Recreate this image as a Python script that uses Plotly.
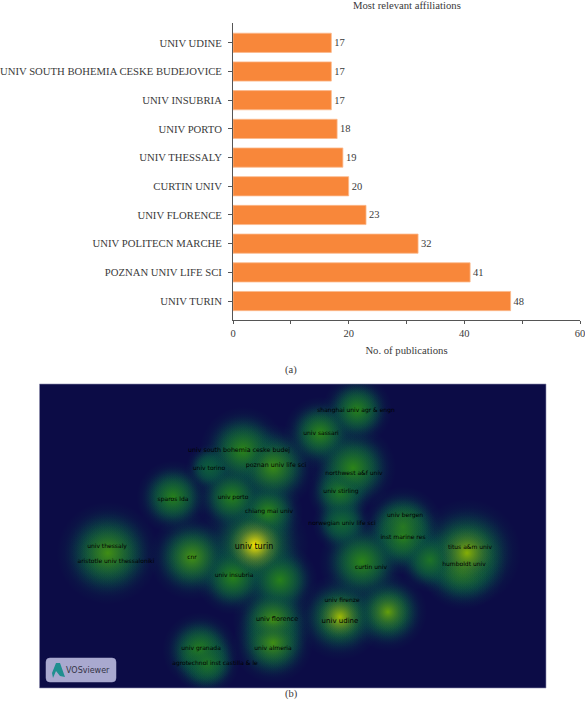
import plotly.graph_objects as go
from plotly.colors import sample_colorscale

W, H = 585, 708

# ---- panel (a)
affiliations = ["UNIV TURIN", "POZNAN UNIV LIFE SCI", "UNIV POLITECN MARCHE", "UNIV FLORENCE",
                "CURTIN UNIV", "UNIV THESSALY", "UNIV PORTO", "UNIV INSUBRIA",
                "UNIV SOUTH BOHEMIA CESKE BUDEJOVICE", "UNIV UDINE"]
publications = [48, 41, 32, 23, 20, 19, 18, 17, 17, 17]
x_ticks = [0, 20, 40, 60]

# ---- panel (b): density blobs on the map
blob_x = [255, 108, 192, 233, 280, 273, 273, 200, 207, 173, 232, 268, 243, 273, 210, 357, 320,
          353, 340, 342, 403, 403, 362, 467, 463, 430, 340, 388]
blob_y = [545, 553, 557, 577, 580, 620, 643, 650, 663, 497, 497, 512, 450, 467, 468, 410, 433,
          468, 492, 523, 527, 537, 562, 553, 567, 560, 617, 612]
blob_r = [40, 38, 32, 28, 28, 30, 30, 28, 24, 27, 27, 26, 32, 32, 18, 26, 27,
          32, 24, 22, 30, 28, 32, 40, 32, 24, 32, 29]
blob_density = [1.0, 0.52, 0.53, 0.45, 0.44, 0.52, 0.52, 0.44, 0.40, 0.44, 0.44, 0.46, 0.46, 0.5, 0.28, 0.44, 0.46,
                0.46, 0.40, 0.32, 0.48, 0.46, 0.46, 0.72, 0.52, 0.38, 0.78, 0.62]

map_labels = ["univ south bohemia ceske budej", "univ torino", "poznan univ life sci", "sparos lda", "univ porto",
              "chiang mai univ", "univ thessaly", "aristotle univ thessaloniki", "cnr", "univ turin",
              "univ insubria", "univ florence", "univ granada", "univ almeria", "agrotechnol inst castilla & le",
              "shanghai univ agr & engn", "univ sassari", "northwest a&f univ", "univ stirling", "univ bergen",
              "norwegian univ life sci", "inst marine res", "titus a&m univ", "humboldt univ", "curtin univ",
              "univ firenze", "univ udine"]
label_x = [239, 209, 276, 173, 233, 269, 107, 116, 192, 254, 234, 277, 201, 273, 215, 356, 321, 354, 341, 405,
           342, 403, 470, 464, 371, 342, 340]
label_y = [450, 468, 465, 499, 497, 511, 546, 561, 557, 547, 575, 619, 648, 648, 663, 410, 433, 473, 491, 515,
           523, 537, 547, 564, 567, 600, 621]
label_size = [6.3, 6, 6.3, 6, 6, 6, 6, 6, 6, 8, 6, 6.5, 6, 6, 6, 6, 6, 6, 6, 6, 6, 6, 6, 6, 6, 6, 7]

SERIF = "Liberation Serif"
SANS = "DejaVu Sans"
INK = "#3a3a3a"
NAVY = "#0c0c46"
SCALE = [[0, "rgb(12,12,70)"], [0.22, "rgb(6,80,70)"], [0.45, "rgb(40,130,25)"],
         [0.72, "rgb(135,175,5)"], [1, "rgb(250,232,0)"]]


def dens_color(v):
    return sample_colorscale(SCALE, [v])[0]


fig = go.Figure()

fig.add_trace(go.Bar(
    x=publications, y=affiliations, orientation="h", width=0.67,
    marker=dict(color="#f8873a", line=dict(color="#fbb98c", width=0.8)),
    text=publications, textposition="outside", cliponaxis=False,
    textfont=dict(family=SERIF, size=10.5, color=INK), xaxis="x", yaxis="y", hoverinfo="skip"))


def blob_layer(scale, cap, floor=0.0):
    keep = [i for i, d in enumerate(blob_density) if d > floor]
    fig.add_trace(go.Scatter(
        x=[blob_x[i] for i in keep], y=[blob_y[i] for i in keep], mode="markers",
        xaxis="x2", yaxis="y2", hoverinfo="skip",
        marker=dict(size=[2 * blob_r[i] * scale for i in keep], line=dict(width=0),
                    color=dens_color(min(0.2, cap)).replace("rgb(", "rgba(").replace(")", ",0)"),
                    gradient=dict(type="radial",
                                  color=[dens_color(min(blob_density[i], cap)) for i in keep]))))


blob_layer(1.35, 0.22)
blob_layer(1.15, 0.30)
blob_layer(1.05, 0.40)
blob_layer(0.95, 0.50)
blob_layer(0.85, 0.55)
blob_layer(0.75, 0.60)
blob_layer(0.7, 1.0, 0.45)
blob_layer(0.7, 1.0, 0.60)
blob_layer(0.6, 1.0, 0.60)
blob_layer(0.5, 1.0, 0.60)
blob_layer(0.55, 1.0, 0.90)
blob_layer(0.5, 1.0, 0.90)
blob_layer(0.45, 1.0, 0.90)

fig.add_trace(go.Scatter(
    x=label_x, y=label_y, text=map_labels, mode="text", xaxis="x2", yaxis="y2", hoverinfo="skip",
    textposition="middle center",
    textfont=dict(family=SANS, size=label_size, color="#000000")))

axis_line = dict(showline=True, linecolor="#555555", linewidth=1)
fig.update_layout(
    width=W, height=H, margin=dict(l=0, r=0, t=0, b=0, autoexpand=False), paper_bgcolor="white",
    plot_bgcolor="white", showlegend=False,
    font=dict(family=SERIF, size=10.5, color=INK),
    xaxis=dict(domain=[233 / W, 580 / W], range=[0, 60], anchor="y", tickvals=x_ticks,
               ticklabeloverflow="allow",
               ticks="outside", ticklen=3, tickcolor="#555555", showgrid=False, zeroline=False,
               minor=dict(tickvals=[10, 30, 50], ticks="outside", ticklen=3, tickcolor="#555555"),
               title=dict(text="No. of publications", font=dict(size=10.7), standoff=8), **axis_line),
    yaxis=dict(domain=[1 - 320 / H, 1 - 23 / H], range=[-0.66, 9.69], anchor="x", type="category",
               ticks="outside", ticklen=4, tickcolor="#555555", showgrid=False, zeroline=False,
               tickfont=dict(size=10.7), ticklabelstandoff=4, **axis_line),
    xaxis2=dict(domain=[39.5 / W, 546 / W], range=[39.5, 546], anchor="y2", visible=False),
    yaxis2=dict(domain=[1 - 688 / H, 1 - 384 / H], range=[688, 384], anchor="x2", visible=False),
    shapes=[
        dict(type="rect", xref="paper", yref="paper", layer="below", x0=39.5 / W, x1=546 / W,
             y0=1 - 688 / H, y1=1 - 384 / H, fillcolor=NAVY, line=dict(color="#8f8fb0", width=0.6)),
        dict(type="path", xref="x2", yref="y2", layer="above",
             path="M 50 658 L 112 658 Q 116 658 116 662 L 116 678 Q 116 682 112 682 L 50 682 "
                  "Q 46 682 46 678 L 46 662 Q 46 658 50 658 Z",
             fillcolor="#a9a9cf", line=dict(color="#a9a9cf", width=0.5)),
        dict(type="path", xref="x2", yref="y2", layer="above",
             path="M 56 663 L 60 663 L 65 677 L 60 676 L 56 671 L 53 678 L 52 673 Z",
             fillcolor="#1f8f8f", line=dict(width=0)),
    ],
    annotations=[
        dict(text="Most relevant affiliations", xref="paper", yref="paper", x=407 / W, y=1 - 5 / H,
             xanchor="center", yanchor="middle", showarrow=False, font=dict(size=10.7)),
        dict(text="(a)", xref="paper", yref="paper", x=291 / W, y=1 - 370 / H, xanchor="center",
             showarrow=False, font=dict(size=10.5)),
        dict(text="(b)", xref="paper", yref="paper", x=291 / W, y=1 - 702 / H, xanchor="center",
             showarrow=False, font=dict(size=10.5)),
        dict(text="VOSviewer", xref="x2", yref="y2", x=88, y=670, showarrow=False,
             font=dict(family=SANS, size=8, color="#333344")),
    ],
)

fig.write_html("out.html", config={"displayModeBar": False},
               post_script="document.body.style.margin='0';document.body.style.overflow='hidden';"
                           "document.documentElement.style.overflow='hidden';")
